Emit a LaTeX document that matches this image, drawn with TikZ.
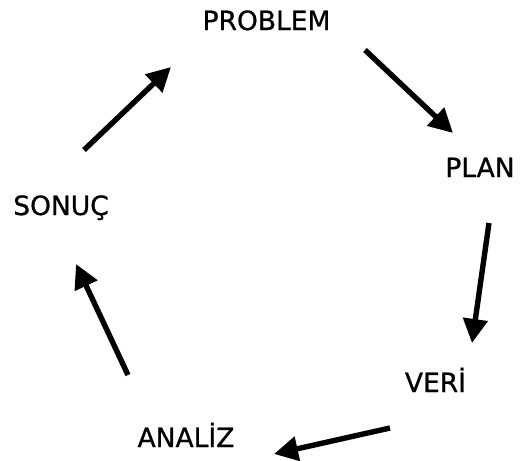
\documentclass[tikz,border=0pt]{standalone}
\usepackage{fontspec}
\setmainfont[FakeBold=0.9]{DejaVu Sans}
\usetikzlibrary{arrows.meta}
\begin{document}
\begin{tikzpicture}[x=1pt,y=-1pt,
  lbl/.style={anchor=base,inner sep=0pt,font=\fontsize{26.5}{30}\selectfont},
  cyc/.style={line width=5.4pt,-{Triangle[length=24pt,width=24pt]}}]
\useasboundingbox[fill=white] (0,0) rectangle (520,461);
\node[lbl] (problem) at (266.5,30) {PROBLEM};
\node[lbl] (plan) at (480,177) {PLAN};
\node[lbl] (veri) at (435.5,392) {VERİ};
\node[lbl] (analiz) at (186,447) {ANALİZ};
\node[lbl] (sonuc) at (61,215) {SONUÇ};
\coordinate (a1s) at (365,50);  \coordinate (a1e) at (453,133);
\coordinate (a2s) at (489,223); \coordinate (a2e) at (472,343);
\coordinate (a3s) at (390,428); \coordinate (a3e) at (274,454);
\coordinate (a4s) at (128,375); \coordinate (a4e) at (76,264);
\coordinate (a5s) at (84,150);  \coordinate (a5e) at (171,67);
\draw[cyc] (a1s) -- (a1e);
\draw[cyc] (a2s) -- (a2e);
\draw[cyc] (a3s) -- (a3e);
\draw[cyc] (a4s) -- (a4e);
\draw[cyc] (a5s) -- (a5e);
\end{tikzpicture}
\end{document}
